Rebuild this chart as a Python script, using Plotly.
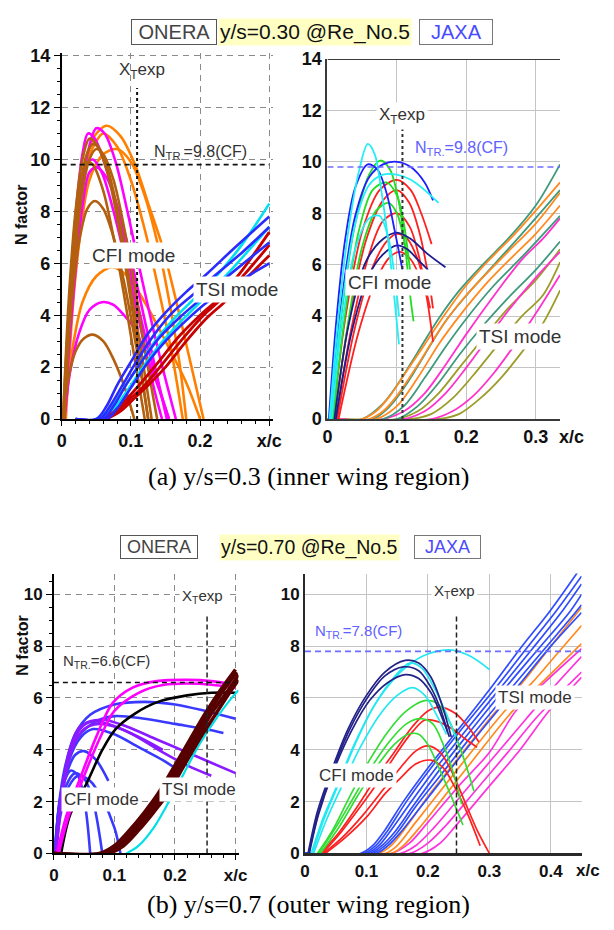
import plotly.graph_objects as go

# ---------------- y/s = 0.3, ONERA (top left) ----------------
TL_CFI_ORANGE = [
    [(0.005, 0), (0.015, 5.0), (0.03, 9.0), (0.045, 10.8), (0.065, 11.3), (0.085, 10.9), (0.106, 9.8), (0.125, 8.3), (0.145, 6.7), (0.165, 4.6), (0.185, 2.3), (0.205, 0)],
    [(0.004, 0), (0.015, 5.5), (0.03, 9.4), (0.05, 10.7), (0.06, 11.0), (0.08, 10.5), (0.1, 9.2), (0.12, 7.3), (0.14, 5.0), (0.16, 2.4), (0.175, 0)],
    [(0.006, 0), (0.02, 5.5), (0.04, 9.2), (0.06, 10.2), (0.08, 10.4), (0.1, 9.9), (0.12, 8.6), (0.14, 6.6), (0.155, 4.6), (0.17, 2.2), (0.18, 0)],
    [(0.004, 0), (0.015, 2.6), (0.03, 4.5), (0.05, 5.5), (0.073, 5.85), (0.095, 5.5), (0.12, 4.5), (0.15, 3.0), (0.18, 1.4), (0.2, 0)],
]
TL_CFI_BROWN = [
    [(0.002, 0), (0.01, 4.5), (0.02, 8.0), (0.03, 10.0), (0.04, 10.8), (0.05, 10.6), (0.065, 9.6), (0.08, 7.8), (0.095, 5.4), (0.11, 2.8), (0.125, 0)],
    [(0.003, 0), (0.012, 4.5), (0.025, 8.5), (0.035, 10.1), (0.045, 10.6), (0.055, 10.4), (0.07, 9.3), (0.085, 7.4), (0.1, 5.0), (0.115, 2.6), (0.13, 0)],
    [(0.004, 0), (0.014, 4.5), (0.028, 8.4), (0.04, 10.0), (0.05, 10.4), (0.06, 10.2), (0.075, 9.2), (0.09, 7.4), (0.105, 5.2), (0.12, 2.7), (0.138, 0)],
    [(0.002, 0), (0.01, 4.0), (0.02, 7.5), (0.03, 9.4), (0.037, 9.9), (0.045, 9.8), (0.06, 8.8), (0.075, 7.0), (0.09, 4.8), (0.105, 2.4), (0.12, 0)],
    [(0.003, 0), (0.012, 3.8), (0.025, 6.8), (0.037, 8.1), (0.048, 8.4), (0.06, 8.1), (0.075, 7.0), (0.09, 5.3), (0.105, 3.2), (0.118, 1.2), (0.125, 0)],
    [(0.002, 0), (0.01, 1.6), (0.02, 2.6), (0.032, 3.1), (0.045, 3.25), (0.06, 3.0), (0.075, 2.3), (0.09, 1.3), (0.105, 0)],
]
TL_CFI_MAGENTA = [
    [(0.004, 0), (0.012, 4.0), (0.025, 8.0), (0.038, 10.3), (0.05, 11.2), (0.062, 11.0), (0.078, 9.9), (0.095, 8.0), (0.115, 5.5), (0.14, 2.6), (0.165, 0)],
    [(0.003, 0), (0.01, 4.0), (0.02, 7.8), (0.03, 10.2), (0.038, 11.0), (0.048, 10.8), (0.065, 9.6), (0.085, 7.6), (0.105, 5.0), (0.13, 2.2), (0.155, 0)],
    [(0.003, 0), (0.012, 4.2), (0.025, 8.0), (0.035, 9.8), (0.045, 10.0), (0.058, 9.5), (0.075, 8.0), (0.095, 5.8), (0.115, 3.4), (0.135, 1.0), (0.145, 0)],
    [(0.004, 0), (0.015, 4.2), (0.03, 8.2), (0.04, 9.5), (0.05, 9.7), (0.065, 9.3), (0.085, 7.8), (0.105, 5.6), (0.125, 3.2), (0.145, 0.8), (0.152, 0)],
    [(0.004, 0), (0.012, 1.8), (0.025, 3.3), (0.04, 4.2), (0.058, 4.5), (0.075, 4.4), (0.09, 4.0), (0.105, 3.5), (0.12, 2.6), (0.14, 1.2), (0.155, 0)],
]
TL_TSI_BLUE = [
    [(0.02, 0), (0.05, 0), (0.065, 0.5), (0.08, 1.3), (0.1, 2.2), (0.125, 3.3), (0.15, 4.1), (0.18, 4.9), (0.21, 5.6), (0.25, 6.6), (0.3, 7.8)],
    [(0.02, 0), (0.055, 0), (0.07, 0.5), (0.09, 1.4), (0.11, 2.3), (0.135, 3.3), (0.16, 4.1), (0.19, 4.8), (0.22, 5.5), (0.26, 6.4), (0.3, 7.4)],
    [(0.02, 0), (0.06, 0), (0.075, 0.5), (0.095, 1.4), (0.115, 2.2), (0.14, 3.1), (0.17, 3.9), (0.2, 4.6), (0.24, 5.5), (0.3, 6.8)],
    [(0.02, 0), (0.065, 0), (0.08, 0.4), (0.1, 1.2), (0.125, 2.2), (0.15, 3.0), (0.18, 3.8), (0.21, 4.5), (0.25, 5.2), (0.3, 6.0)],
]
TL_TSI_CYAN = [
    [(0.05, 0), (0.07, 0.4), (0.09, 1.2), (0.11, 2.0), (0.135, 3.0), (0.16, 3.8), (0.19, 4.6), (0.22, 5.4), (0.26, 6.7), (0.3, 8.3)],
    [(0.055, 0), (0.075, 0.4), (0.095, 1.1), (0.115, 1.9), (0.14, 2.8), (0.17, 3.7), (0.2, 4.5), (0.24, 5.6), (0.3, 7.4)],
]
TL_TSI_RED = [
    [(0.055, 0), (0.075, 0.3), (0.095, 0.8), (0.115, 1.4), (0.14, 2.2), (0.17, 3.2), (0.2, 4.0), (0.225, 4.6), (0.26, 5.7), (0.3, 7.2)],
    [(0.06, 0), (0.08, 0.3), (0.1, 0.8), (0.12, 1.3), (0.145, 2.1), (0.175, 3.1), (0.205, 4.0), (0.23, 4.6), (0.265, 5.6), (0.3, 6.7)],
    [(0.065, 0), (0.085, 0.3), (0.105, 0.8), (0.125, 1.3), (0.15, 2.0), (0.18, 3.0), (0.21, 3.9), (0.235, 4.5), (0.27, 5.5), (0.3, 6.3)],
]

# ---------------- y/s = 0.3, JAXA (top right) ----------------
TR_CFI_CYAN = [
    [(0.003, 0), (0.015, 3.8), (0.03, 7.3), (0.045, 9.6), (0.058, 10.7), (0.068, 10.3), (0.078, 8.8), (0.088, 6.8), (0.096, 4.8), (0.103, 2.9)],
    [(0.004, 0), (0.02, 4.2), (0.04, 7.6), (0.06, 9.1), (0.08, 9.5), (0.1, 9.5), (0.12, 9.3), (0.14, 8.9), (0.16, 8.4)],
    [(0.006, 0), (0.02, 3.5), (0.04, 6.6), (0.06, 7.8), (0.075, 7.9), (0.088, 7.0), (0.097, 5.5), (0.103, 4.0)],
]
TR_CFI_BLUE = [
    [(0.002, 0), (0.012, 3.6), (0.025, 6.9), (0.04, 9.0), (0.058, 9.9), (0.072, 9.7), (0.085, 8.8), (0.097, 7.3), (0.108, 5.8)],
    [(0.004, 0), (0.02, 4.5), (0.04, 7.9), (0.06, 9.4), (0.08, 9.9), (0.1, 10.0), (0.12, 9.8), (0.14, 9.2), (0.152, 8.5)],
]
TR_CFI_GREEN = [
    [(0.006, 0), (0.02, 4.0), (0.04, 7.6), (0.06, 9.5), (0.076, 10.05), (0.09, 9.7), (0.103, 8.4), (0.113, 6.4), (0.12, 4.6), (0.124, 3.8)],
    [(0.008, 0), (0.025, 4.0), (0.045, 7.3), (0.065, 8.9), (0.085, 9.2), (0.1, 8.7), (0.11, 7.6), (0.118, 6.0), (0.122, 5.0)],
    [(0.01, 0), (0.03, 3.8), (0.05, 6.7), (0.07, 8.1), (0.088, 8.4), (0.1, 8.0), (0.11, 7.0), (0.115, 6.2)],
]
TR_CFI_RED = [
    [(0.008, 0), (0.025, 3.8), (0.05, 7.3), (0.075, 8.9), (0.1, 9.3), (0.12, 8.9), (0.135, 8.0), (0.15, 6.8)],
    [(0.01, 0), (0.03, 3.7), (0.055, 6.9), (0.08, 8.5), (0.1, 8.9), (0.118, 8.4), (0.132, 7.3), (0.145, 5.6), (0.152, 4.3)],
    [(0.012, 0), (0.035, 3.6), (0.06, 6.4), (0.08, 7.7), (0.1, 8.0), (0.118, 7.5), (0.132, 6.3), (0.145, 4.4), (0.152, 3.0)],
    [(0.014, 0), (0.04, 3.6), (0.065, 5.9), (0.085, 6.9), (0.1, 7.2), (0.115, 7.0), (0.13, 6.2), (0.142, 5.0), (0.148, 4.3)],
    [(0.016, 0), (0.045, 3.4), (0.07, 5.4), (0.09, 6.3), (0.105, 6.5), (0.12, 6.2), (0.135, 5.4), (0.145, 4.6)],
]
TR_CFI_NAVY = [
    [(0.01, 0), (0.03, 3.6), (0.055, 6.1), (0.08, 7.0), (0.1, 7.25), (0.12, 7.0), (0.145, 6.4), (0.17, 5.9)],
    [(0.012, 0), (0.035, 3.4), (0.06, 5.6), (0.08, 6.4), (0.1, 6.75), (0.115, 6.6), (0.13, 6.2), (0.145, 5.8)],
]
TR_TSI_ORANGE = [
    [(0, 0), (0.05, 0), (0.07, 0.3), (0.09, 0.9), (0.11, 1.7), (0.14, 2.9), (0.17, 4.1), (0.2, 5.2), (0.23, 6.1), (0.27, 7.2), (0.3, 8.1), (0.335, 9.2)],
    [(0, 0), (0.06, 0), (0.08, 0.3), (0.1, 0.9), (0.13, 2.1), (0.16, 3.4), (0.19, 4.5), (0.22, 5.4), (0.26, 6.5), (0.3, 7.6), (0.335, 8.8)],
    [(0, 0), (0.07, 0), (0.1, 0.5), (0.13, 1.6), (0.16, 2.9), (0.19, 4.0), (0.23, 5.3), (0.27, 6.4), (0.3, 7.2), (0.335, 8.3)],
]
TR_TSI_TEAL = [
    [(0, 0), (0.05, 0), (0.08, 0.6), (0.1, 1.3), (0.13, 2.6), (0.16, 3.9), (0.19, 5.0), (0.22, 5.9), (0.26, 7.0), (0.3, 8.3), (0.335, 9.9)],
    [(0, 0), (0.065, 0), (0.09, 0.5), (0.115, 1.4), (0.14, 2.5), (0.17, 3.8), (0.2, 4.8), (0.24, 6.0), (0.28, 7.2), (0.335, 8.9)],
    [(0, 0), (0.08, 0), (0.11, 0.5), (0.14, 1.6), (0.17, 2.8), (0.2, 3.9), (0.24, 5.2), (0.28, 6.3), (0.335, 7.9)],
    [(0, 0), (0.1, 0), (0.13, 0.5), (0.16, 1.4), (0.19, 2.5), (0.22, 3.5), (0.26, 4.7), (0.3, 5.8), (0.335, 6.9)],
]
TR_TSI_MAGENTA = [
    [(0, 0), (0.08, 0), (0.11, 0.3), (0.14, 1.0), (0.17, 2.1), (0.2, 3.3), (0.24, 4.8), (0.28, 6.2), (0.31, 7.0), (0.335, 7.8)],
    [(0, 0), (0.11, 0), (0.14, 0.3), (0.17, 1.0), (0.2, 2.0), (0.23, 3.1), (0.26, 4.2), (0.3, 5.5), (0.335, 6.5)],
    [(0, 0), (0.15, 0), (0.18, 0.3), (0.21, 0.9), (0.24, 1.8), (0.27, 2.9), (0.3, 4.1), (0.335, 5.6)],
]
TR_TSI_OLIVE = [
    [(0, 0), (0.1, 0), (0.13, 0.3), (0.16, 1.0), (0.19, 2.0), (0.22, 3.0), (0.26, 4.3), (0.3, 5.4), (0.335, 6.6)],
    [(0, 0), (0.12, 0), (0.15, 0.2), (0.18, 0.8), (0.21, 1.7), (0.24, 2.7), (0.28, 4.0), (0.31, 4.8), (0.335, 6.1)],
    [(0, 0), (0.16, 0), (0.19, 0.2), (0.22, 0.8), (0.25, 1.6), (0.28, 2.6), (0.31, 3.7), (0.335, 5.0)],
]

# ---------------- y/s = 0.7, ONERA (bottom left) ----------------
BL_CFI_BLUE = [
    [(0.002, 0), (0.008, 1.8), (0.018, 3.3), (0.035, 4.6), (0.06, 5.35), (0.1, 5.75), (0.15, 5.85), (0.2, 5.75), (0.25, 5.5), (0.3, 5.2)],
    [(0.002, 0), (0.008, 1.7), (0.02, 3.3), (0.04, 4.5), (0.07, 5.1), (0.1, 5.3), (0.15, 5.2), (0.2, 5.0), (0.25, 4.8), (0.28, 4.65)],
    [(0.002, 0), (0.01, 2.0), (0.025, 3.6), (0.045, 4.5), (0.065, 4.8), (0.1, 4.6), (0.14, 4.1), (0.18, 3.6), (0.2, 3.3)],
    [(0.002, 0), (0.01, 1.9), (0.02, 3.0), (0.035, 3.8), (0.05, 3.95), (0.07, 3.6), (0.09, 2.8)],
    [(0.001, 0), (0.008, 1.7), (0.016, 2.7), (0.028, 3.2), (0.04, 3.0), (0.052, 1.8), (0.06, 0)],
    [(0.002, 0), (0.01, 1.6), (0.02, 2.6), (0.035, 3.1), (0.05, 2.9), (0.065, 2.0), (0.08, 0)],
    [(0.003, 0), (0.012, 1.6), (0.025, 2.6), (0.04, 3.0), (0.06, 2.8), (0.08, 2.1), (0.1, 1.0), (0.11, 0)],
]
BL_CFI_PURPLE = [
    [(0.003, 0), (0.012, 2.2), (0.025, 3.9), (0.04, 4.8), (0.06, 5.1), (0.085, 5.15), (0.12, 4.9), (0.17, 4.4), (0.22, 3.9), (0.26, 3.5), (0.3, 3.1)],
    [(0.003, 0), (0.013, 2.3), (0.028, 4.0), (0.045, 4.85), (0.065, 5.1), (0.09, 5.0), (0.13, 4.6), (0.18, 3.9), (0.22, 3.4), (0.26, 3.0)],
    [(0.004, 0), (0.015, 2.4), (0.03, 4.0), (0.05, 4.8), (0.075, 5.0), (0.1, 4.9), (0.14, 4.5), (0.18, 4.0)],
]
BL_CFI_MAGENTA = [
    [(0.005, 0), (0.02, 1.4), (0.045, 3.0), (0.07, 4.5), (0.097, 5.8), (0.13, 6.4), (0.17, 6.65), (0.22, 6.7), (0.26, 6.65), (0.3, 6.5)],
    [(0.008, 0), (0.024, 1.4), (0.05, 3.0), (0.075, 4.4), (0.1, 5.5), (0.14, 6.2), (0.18, 6.5), (0.24, 6.55), (0.3, 6.4)],
]
BL_CFI_BLACK = [
    [(0.012, 0), (0.027, 1.5), (0.054, 2.7), (0.08, 4.0), (0.102, 4.8), (0.134, 5.4), (0.172, 5.85), (0.22, 6.1), (0.26, 6.2), (0.3, 6.2)],
]
BL_TSI_MAROON = [
    [(0, 0), (0.075, 0), (0.1, 0.3), (0.125, 0.9), (0.15, 1.6), (0.172, 2.3), (0.2, 3.4), (0.225, 4.4), (0.25, 5.4), (0.275, 6.3), (0.3, 7.1)],
    [(0, 0), (0.08, 0), (0.105, 0.3), (0.13, 0.9), (0.155, 1.6), (0.178, 2.3), (0.205, 3.4), (0.23, 4.4), (0.255, 5.4), (0.28, 6.3), (0.302, 7.0)],
    [(0, 0), (0.085, 0), (0.11, 0.3), (0.135, 0.9), (0.16, 1.6), (0.183, 2.3), (0.21, 3.4), (0.235, 4.4), (0.26, 5.4), (0.285, 6.2), (0.305, 6.9)],
    [(0, 0), (0.09, 0), (0.115, 0.3), (0.14, 0.9), (0.165, 1.6), (0.188, 2.3), (0.215, 3.4), (0.24, 4.4), (0.265, 5.3), (0.29, 6.2), (0.305, 6.7)],
]
BL_TSI_CYAN = [
    [(0.12, 0), (0.14, 0.3), (0.165, 1.0), (0.19, 2.0), (0.215, 3.1), (0.24, 4.2), (0.265, 5.1), (0.29, 5.9), (0.305, 6.3)],
]

# ---------------- y/s = 0.7, JAXA (bottom right) ----------------
BR_CFI_NAVY = [
    [(0.005, 0), (0.02, 1.6), (0.04, 3.0), (0.07, 4.8), (0.1, 6.1), (0.13, 7.0), (0.163, 7.45), (0.185, 7.35), (0.205, 6.8), (0.222, 5.8), (0.238, 4.5)],
    [(0.007, 0), (0.022, 1.5), (0.045, 3.1), (0.075, 4.7), (0.105, 5.9), (0.135, 6.6), (0.163, 6.9), (0.185, 6.75), (0.205, 6.2), (0.222, 5.3), (0.235, 4.5)],
    [(0.006, 0), (0.021, 1.5), (0.042, 3.0), (0.072, 4.75), (0.1, 5.95), (0.13, 6.85), (0.16, 7.2), (0.185, 7.05), (0.205, 6.4), (0.22, 5.6), (0.232, 4.7)],
]
BR_CFI_CYAN = [
    [(0.01, 0), (0.03, 1.4), (0.05, 2.5), (0.08, 4.2), (0.11, 5.6), (0.14, 6.6), (0.17, 7.3), (0.2, 7.7), (0.24, 7.85), (0.27, 7.6), (0.3, 7.1)],
    [(0.012, 0), (0.032, 1.4), (0.055, 2.7), (0.085, 4.4), (0.115, 5.8), (0.145, 6.8), (0.17, 7.35), (0.19, 7.15), (0.21, 6.4), (0.228, 5.5), (0.248, 4.3)],
    [(0.014, 0), (0.035, 1.3), (0.06, 2.6), (0.09, 4.1), (0.12, 5.3), (0.15, 6.1), (0.175, 6.4), (0.195, 6.1), (0.215, 5.3), (0.23, 4.6)],
]
BR_CFI_GREEN = [
    [(0.02, 0), (0.045, 0.9), (0.075, 2.3), (0.105, 3.6), (0.135, 4.7), (0.165, 5.5), (0.195, 5.9), (0.215, 5.8), (0.235, 5.1), (0.255, 3.9), (0.275, 2.4)],
    [(0.022, 0), (0.05, 1.0), (0.08, 2.2), (0.11, 3.4), (0.14, 4.4), (0.165, 5.0), (0.188, 5.2), (0.208, 5.0), (0.225, 4.2), (0.24, 3.2), (0.255, 1.9)],
    [(0.025, 0), (0.055, 1.0), (0.085, 2.2), (0.115, 3.3), (0.145, 4.2), (0.168, 4.6), (0.185, 4.6), (0.2, 4.2), (0.218, 3.3), (0.238, 2.2), (0.257, 1.1)],
]
BR_CFI_RED = [
    [(0.025, 0), (0.055, 0.8), (0.085, 1.8), (0.115, 2.9), (0.145, 3.9), (0.175, 4.9), (0.2, 5.5), (0.22, 5.65), (0.245, 5.4), (0.265, 4.9), (0.283, 4.3)],
    [(0.028, 0), (0.058, 0.8), (0.09, 1.8), (0.12, 2.8), (0.15, 3.9), (0.175, 4.7), (0.195, 5.15), (0.215, 5.1), (0.24, 4.8), (0.262, 4.4), (0.28, 4.1)],
    [(0.03, 0), (0.06, 0.6), (0.095, 1.5), (0.125, 2.4), (0.155, 3.3), (0.18, 3.95), (0.2, 4.15), (0.22, 3.9), (0.24, 3.1), (0.26, 2.0), (0.28, 0.9), (0.3, 0)],
    [(0.033, 0), (0.065, 0.6), (0.1, 1.4), (0.13, 2.3), (0.155, 2.9), (0.18, 3.45), (0.205, 3.6), (0.225, 3.3), (0.245, 2.5), (0.265, 1.5), (0.285, 0.3)],
]
BR_TSI_BLUE = [
    [(0, 0), (0.09, 0), (0.11, 0.3), (0.13, 0.9), (0.16, 2.0), (0.2, 3.3), (0.25, 4.8), (0.306, 6.5), (0.35, 7.9), (0.4, 9.4), (0.445, 10.9)],
    [(0, 0), (0.095, 0), (0.115, 0.3), (0.135, 0.9), (0.165, 2.0), (0.205, 3.3), (0.255, 4.8), (0.314, 6.5), (0.36, 7.9), (0.41, 9.4), (0.45, 10.7)],
    [(0, 0), (0.1, 0), (0.12, 0.3), (0.14, 0.9), (0.17, 1.9), (0.21, 3.2), (0.26, 4.7), (0.322, 6.5), (0.37, 7.9), (0.42, 9.4), (0.45, 10.4)],
    [(0, 0), (0.105, 0), (0.125, 0.3), (0.145, 0.8), (0.175, 1.8), (0.215, 3.1), (0.265, 4.6), (0.33, 6.5), (0.38, 7.9), (0.43, 9.3), (0.45, 10.0)],
    [(0, 0), (0.11, 0), (0.13, 0.3), (0.15, 0.8), (0.18, 1.8), (0.22, 3.0), (0.27, 4.5), (0.34, 6.5), (0.39, 7.9), (0.44, 9.3), (0.45, 9.6)],
    [(0, 0), (0.115, 0), (0.135, 0.3), (0.155, 0.8), (0.185, 1.7), (0.225, 2.9), (0.275, 4.4), (0.348, 6.5), (0.4, 8.0), (0.45, 9.3)],
]
BR_TSI_ORANGE = [
    [(0, 0), (0.12, 0), (0.14, 0.3), (0.17, 1.2), (0.2, 2.2), (0.25, 3.7), (0.311, 5.5), (0.354, 6.6), (0.4, 8.0), (0.45, 9.5)],
    [(0, 0), (0.13, 0), (0.15, 0.3), (0.18, 1.2), (0.21, 2.1), (0.26, 3.6), (0.325, 5.5), (0.37, 6.6), (0.41, 7.7), (0.45, 8.8)],
    [(0, 0), (0.14, 0), (0.16, 0.3), (0.19, 1.1), (0.22, 2.0), (0.27, 3.5), (0.338, 5.5), (0.39, 6.7), (0.45, 8.1)],
]
BR_TSI_MAGENTA = [
    [(0, 0), (0.14, 0), (0.17, 0.4), (0.2, 1.2), (0.25, 2.6), (0.3, 3.9), (0.343, 5.5), (0.39, 6.6), (0.45, 7.9)],
    [(0, 0), (0.155, 0), (0.18, 0.3), (0.21, 1.0), (0.26, 2.4), (0.31, 3.8), (0.36, 5.2), (0.4, 6.3), (0.45, 7.6)],
    [(0, 0), (0.17, 0), (0.2, 0.4), (0.23, 1.1), (0.28, 2.5), (0.33, 3.9), (0.375, 5.2), (0.42, 6.3), (0.45, 7.0)],
    [(0, 0), (0.19, 0), (0.22, 0.4), (0.25, 1.2), (0.3, 2.6), (0.35, 4.0), (0.397, 5.5), (0.43, 6.3), (0.45, 6.8)],
]

# transition criteria and experimental transition locations
TL_NTR, TR_NTR, BL_NTR, BR_NTR = 9.8, 9.8, 6.6, 7.8
TL_XT, TR_XT, BL_XT, BR_XT = 0.109, 0.108, 0.253, 0.2465

W, H = 614, 930
SANS = "Liberation Sans, Arial, sans-serif"
NARROW = "Liberation Sans Narrow, Arial Narrow, Liberation Sans, sans-serif"
SERIF = "Liberation Serif, Times New Roman, serif"
NB = "\u00a0"
EN = "\u2002"

fig = go.Figure()

# drawing order: later families sit on top
SERIES = [
    ("x", "y", TL_CFI_ORANGE, "#ff8000", 2.6),
    ("x", "y", TL_CFI_MAGENTA, "#ff00ff", 2.6),
    ("x", "y", TL_CFI_BROWN, "#b2600f", 2.6),
    ("x", "y", TL_TSI_RED, "#c80000", 2.8),
    ("x", "y", TL_TSI_CYAN, "#00e0f0", 2.6),
    ("x", "y", TL_TSI_BLUE, "#2b2bff", 2.6),
    ("x2", "y2", TR_TSI_OLIVE, "#9c9c2a", 1.8),
    ("x2", "y2", TR_TSI_MAGENTA, "#ff33cc", 1.8),
    ("x2", "y2", TR_TSI_TEAL, "#3f9a7c", 1.8),
    ("x2", "y2", TR_TSI_ORANGE, "#ff8a20", 1.8),
    ("x2", "y2", TR_CFI_RED, "#ff2020", 1.8),
    ("x2", "y2", TR_CFI_GREEN, "#22dd22", 1.8),
    ("x2", "y2", TR_CFI_NAVY, "#1c1c8c", 1.8),
    ("x2", "y2", TR_CFI_BLUE, "#1f1fff", 1.8),
    ("x2", "y2", TR_CFI_CYAN, "#22eef5", 1.8),
    ("x3", "y3", BL_CFI_BLUE, "#3a3aff", 2.6),
    ("x3", "y3", BL_CFI_PURPLE, "#8a1aff", 2.6),
    ("x3", "y3", BL_CFI_BLACK, "#000000", 2.6),
    ("x3", "y3", BL_CFI_MAGENTA, "#ff00ff", 2.6),
    ("x3", "y3", BL_TSI_CYAN, "#00e0e8", 2.2),
    ("x3", "y3", BL_TSI_MAROON, "#560000", 3.6),
    ("x4", "y4", BR_TSI_MAGENTA, "#ff33dd", 1.7),
    ("x4", "y4", BR_TSI_ORANGE, "#ff8a20", 1.7),
    ("x4", "y4", BR_TSI_BLUE, "#2f4cff", 1.7),
    ("x4", "y4", BR_CFI_RED, "#ff2020", 1.7),
    ("x4", "y4", BR_CFI_GREEN, "#33dd33", 1.7),
    ("x4", "y4", BR_CFI_CYAN, "#22e8f2", 1.7),
    ("x4", "y4", BR_CFI_NAVY, "#222288", 1.7),
]

for xa, ya, curves, color, width in SERIES:
    for pts in curves:
        fig.add_trace(go.Scatter(
            x=[p[0] for p in pts], y=[p[1] for p in pts], mode="lines",
            line=dict(color=color, width=width, shape="spline", smoothing=0.9),
            xaxis=xa, yaxis=ya, showlegend=False, hoverinfo="skip"))


def px_x(p):
    return p / W


def px_y(p):
    return 1 - p / H


dash_grid = dict(showgrid=True, gridcolor="#8a8a8a", gridwidth=1, griddash="6px,5px")
solid_grid = dict(showgrid=True, gridcolor="#c4c4c4", gridwidth=1)
bold_tick = dict(family=SANS, size=18, color="#111", weight=700)
narrow_tick = dict(family=NARROW, size=17, color="#111", weight=700)

fig.update_layout(
    width=W, height=H, margin=dict(l=0, r=0, t=0, b=0),
    paper_bgcolor="white", plot_bgcolor="white",
    xaxis=dict(domain=[px_x(58), px_x(274)], range=[0, 0.305], anchor="y",
               tickvals=[0, 0.1, 0.2, 0.3], ticktext=["0", "0.1", "0.2", "x/c"],
               ticks="outside", ticklen=5, tickcolor="#000", showline=True, linecolor="#000", linewidth=1.5,
               minor=dict(dtick=0.02, ticks="outside", ticklen=3, tickcolor="#000"),
               tickfont=bold_tick, zeroline=False, **dash_grid),
    yaxis=dict(domain=[px_y(418), px_y(44)], range=[0, 14.1], anchor="x",
               tickvals=[0, 2, 4, 6, 8, 10, 12, 14], ticks="outside", ticklen=6, tickcolor="#000",
               showline=True, linecolor="#000", linewidth=1.5,
               minor=dict(dtick=0.5, ticks="outside", ticklen=3, tickcolor="#000"),
               tickfont=bold_tick, zeroline=False, **dash_grid),
    xaxis2=dict(domain=[px_x(330), px_x(568)], range=[0, 0.335], anchor="y2",
                tickvals=[0, 0.1, 0.2, 0.3], ticktext=["0", "0.1", "0.2", "0.3"],
                ticks="", showline=True, linecolor="#3a3a3a", linewidth=2,
                tickfont=bold_tick, zeroline=False, **solid_grid),
    yaxis2=dict(domain=[px_y(418), px_y(50)], range=[0, 14], anchor="x2",
                tickvals=[0, 2, 4, 6, 8, 10, 12, 14], ticks="", showline=True, mirror=False,
                linecolor="#3a3a3a", linewidth=2, tickfont=bold_tick, zeroline=False, **solid_grid),
    xaxis3=dict(domain=[px_x(50), px_x(239)], range=[0, 0.305], anchor="y3",
                tickvals=[0, 0.1, 0.2, 0.3], ticktext=["0", "0.1", "0.2", "x/c"],
                ticks="outside", ticklen=5, tickcolor="#000", showline=True, linecolor="#000", linewidth=1.5,
                minor=dict(dtick=0.02, ticks="outside", ticklen=3, tickcolor="#000"),
                tickfont=narrow_tick, zeroline=False, **dash_grid),
    yaxis3=dict(domain=[px_y(862), px_y(576)], range=[0, 10.8], anchor="x3",
                tickvals=[0, 2, 4, 6, 8, 10], ticks="outside", ticklen=6, tickcolor="#000",
                showline=True, linecolor="#000", linewidth=1.5,
                minor=dict(dtick=0.5, ticks="outside", ticklen=3, tickcolor="#000"),
                tickfont=narrow_tick, zeroline=False, **dash_grid),
    xaxis4=dict(domain=[px_x(307), px_x(590)], range=[0, 0.45], anchor="y4",
                tickvals=[0, 0.1, 0.2, 0.3, 0.4], ticktext=["0", "0.1", "0.2", "0.3", "0.4"],
                ticks="", showline=True, linecolor="#2a2a2a", linewidth=2.5,
                tickfont=narrow_tick, zeroline=False, **solid_grid),
    yaxis4=dict(domain=[px_y(862), px_y(576)], range=[0, 10.8], anchor="x4",
                tickvals=[0, 2, 4, 6, 8, 10], ticks="", showline=True,
                linecolor="#2a2a2a", linewidth=2, tickfont=narrow_tick, zeroline=False, **solid_grid),
)

shapes = [
    # top frame of the JAXA y/s=0.3 panel
    dict(type="line", xref="x2", yref="y2", x0=0, x1=0.335, y0=14, y1=14, line=dict(color="#3a3a3a", width=2)),
    # N_TR thresholds
    dict(type="line", xref="x", yref="y", x0=0, x1=0.3, y0=TL_NTR, y1=TL_NTR, line=dict(color="#111", width=1.6, dash="5px,4px")),
    dict(type="line", xref="x2", yref="y2", x0=0, x1=0.335, y0=TR_NTR, y1=TR_NTR, line=dict(color="#6d6dff", width=1.6, dash="6px,4px")),
    dict(type="line", xref="x3", yref="y3", x0=0, x1=0.3, y0=BL_NTR, y1=BL_NTR, line=dict(color="#111", width=1.6, dash="5px,4px")),
    dict(type="line", xref="x4", yref="y4", x0=0, x1=0.45, y0=BR_NTR, y1=BR_NTR, line=dict(color="#6d6dff", width=1.6, dash="6px,4px")),
    # experimental transition locations
    dict(type="line", xref="x", yref="y", x0=TL_XT, x1=TL_XT, y0=0, y1=12.75, line=dict(color="#111", width=2, dash="dot")),
    dict(type="line", xref="x2", yref="y2", x0=TR_XT, x1=TR_XT, y0=0, y1=11.3, line=dict(color="#333", width=2, dash="dot")),
    dict(type="line", xref="x3", yref="y3", x0=BL_XT, x1=BL_XT, y0=0, y1=9.25, line=dict(color="#222", width=1.5, dash="5px,3px")),
    dict(type="line", xref="x4", yref="y4", x0=BR_XT, x1=BR_XT, y0=0, y1=9.25, line=dict(color="#222", width=1.5, dash="5px,3px")),
]
fig.update_layout(shapes=shapes)

ann = []


def label(text, xref, yref, x, y, size, color="#333", bg=None, family=SANS, weight=None, **kw):
    font = dict(family=family, size=size, color=color)
    if weight:
        font["weight"] = weight
    d = dict(text=text, xref=xref, yref=yref, x=x, y=y, showarrow=False,
             font=font, xanchor="center", yanchor="middle")
    if bg:
        d.update(bgcolor=bg, borderpad=2)
    d.update(kw)
    ann.append(d)


# mode labels
label("CFI mode", "x", "y", 0.104, 6.3, 19, bg="white")
label("TSI mode", "x", "y", 0.254, 5.0, 19, bg="white")
label("CFI mode", "x2", "y2", 0.09, 5.3, 19, bg="white")
label("TSI mode", "x2", "y2", 0.277, 3.2, 19, bg="white")
label("CFI mode", "x3", "y3", 0.078, 2.1, 17, bg="white")
label("TSI mode", "x3", "y3", 0.24, 2.45, 17, bg="white")
label("CFI mode", "x4", "y4", 0.084, 3.0, 17, bg="white")
label("TSI mode", "x4", "y4", 0.375, 6.0, 17, bg="white")

# X_T exp and N_TR texts
label("X<sub>T</sub>exp", "x", "y", 0.116, 13.4, 17, color="#333")
label("N<sub>TR.</sub>=9.8(CF)", "x", "y", 0.2, 10.25, 16, color="#333")
label("X<sub>T</sub>exp", "x2", "y2", 0.107, 11.8, 17, color="#333", bg="white")
label("N<sub>TR.</sub>=9.8(CF)", "x2", "y2", 0.193, 10.5, 16, color="#6060ff")
label("X<sub>T</sub>exp", "x3", "y3", 0.245, 9.9, 15, color="#333", bg="white")
label("N<sub>TR.</sub>=6.6(CF)", "x3", "y3", 0.087, 7.4, 15, color="#333")
label("X<sub>T</sub>exp", "x4", "y4", 0.243, 10.1, 15, color="#333", bg="white")
label("N<sub>TR.</sub>=7.8(CF)", "x4", "y4", 0.087, 8.55, 15, color="#6060ff")

# x/c beyond the right-hand axes
label("x/c", "paper", "paper", px_x(580), px_y(436), 18, color="#111", weight=700)
label("x/c", "paper", "paper", px_x(597), px_y(879), 17, color="#111", family=NARROW, weight=700)

# axis titles
for yc in (210, 650):
    label("N factor", "paper", "paper", px_x(17), px_y(yc), 16, color="#111", weight=700, textangle=-90)

# header boxes
label(NB + "ONERA" + NB, "paper", "paper", px_x(173), px_y(22), 20, color="#444", bg="white",
      bordercolor="#555", borderwidth=1, borderpad=1)
label("y/s=0.30 @Re_No.5", "paper", "paper", px_x(317.5), px_y(22), 21, color="#111", bg="#ffffc4", borderpad=1)
label(EN + "JAXA" + EN, "paper", "paper", px_x(462), px_y(22), 20, color="#4a4aff", bg="white",
      bordercolor="#777", borderwidth=1, borderpad=1)
label(NB + "ONERA" + NB, "paper", "paper", px_x(158), px_y(549), 18, color="#444", bg="white",
      bordercolor="#555", borderwidth=1, borderpad=1)
label("y/s=0.70 @Re_No.5", "paper", "paper", px_x(311.5), px_y(549), 19.5, color="#111", bg="#ffffc4", borderpad=1)
label(EN + "JAXA" + EN, "paper", "paper", px_x(452.5), px_y(549), 18, color="#4a4aff", bg="white",
      bordercolor="#777", borderwidth=1, borderpad=1)

# captions
label("(a) y/s=0.3 (inner wing region)", "paper", "paper", px_x(311), px_y(477), 26, color="#000", family=SERIF)
label("(b) y/s=0.7 (outer wing region)", "paper", "paper", px_x(311), px_y(914), 26, color="#000", family=SERIF)

fig.update_layout(annotations=ann)
fig.write_html("out.html")
